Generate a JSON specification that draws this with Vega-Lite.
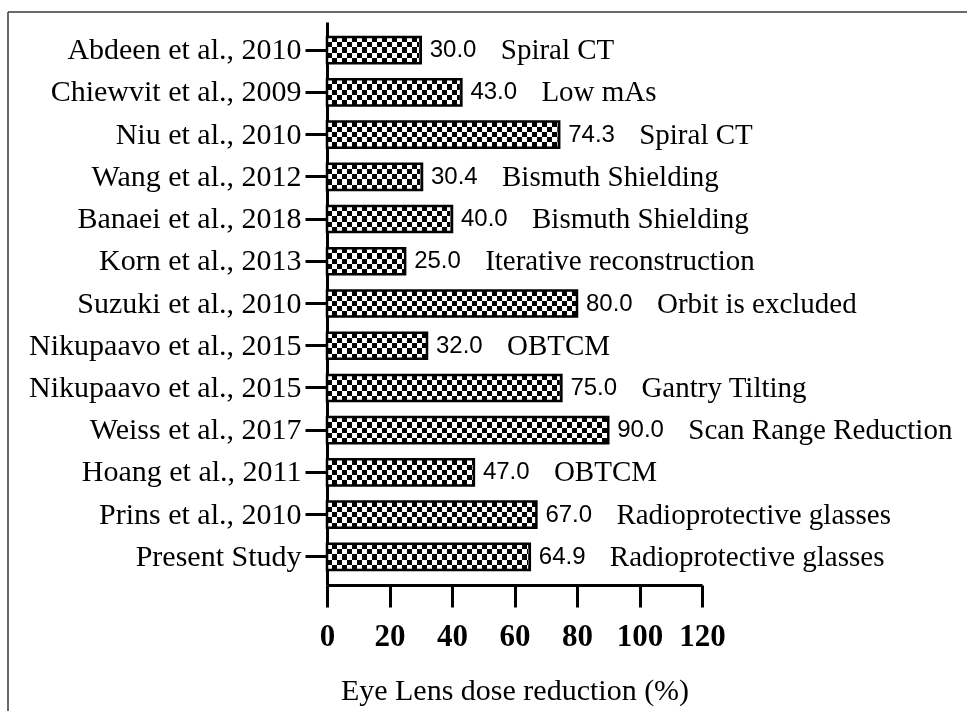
{
  "$schema": "https://vega.github.io/schema/vega-lite/v6.json",
  "width": 959,
  "height": 699,
  "autosize": "none",
  "padding": {"left": 8, "top": 12, "right": 0, "bottom": 0},
  "background": "white",
  "data": {
    "values": [
      {"study": "Abdeen et al., 2010", "value": 30.0, "method": "Spiral CT"},
      {"study": "Chiewvit et al., 2009", "value": 43.0, "method": "Low mAs"},
      {"study": "Niu et al., 2010", "value": 74.3, "method": "Spiral CT"},
      {"study": "Wang et al., 2012", "value": 30.4, "method": "Bismuth Shielding"},
      {"study": "Banaei et al., 2018", "value": 40.0, "method": "Bismuth Shielding"},
      {"study": "Korn et al., 2013", "value": 25.0, "method": "Iterative reconstruction"},
      {"study": "Suzuki et al., 2010", "value": 80.0, "method": "Orbit is excluded"},
      {"study": "Nikupaavo et al., 2015|a", "value": 32.0, "method": "OBTCM"},
      {"study": "Nikupaavo et al., 2015|b", "value": 75.0, "method": "Gantry Tilting"},
      {"study": "Weiss et al., 2017", "value": 90.0, "method": "Scan Range Reduction"},
      {"study": "Hoang et al., 2011", "value": 47.0, "method": "OBTCM"},
      {"study": "Prins et al., 2010", "value": 67.0, "method": "Radioprotective glasses"},
      {"study": "Present Study\u00a0", "value": 64.9, "method": "Radioprotective glasses"}
    ]
  },
  "encoding": {
    "y": {
      "field": "study",
      "type": "nominal",
      "sort": null,
      "scale": {"range": [10, 573], "paddingInner": 0.38, "paddingOuter": 0.355},
      "axis": {"title": null, "labelExpr": "split(datum.label, '|')[0]", "labelLimit": 0}
    },
    "x": {
      "field": "value",
      "type": "quantitative",
      "scale": {"domain": [0, 120], "range": [319, 694], "nice": false, "zero": true},
      "title": "Eye Lens dose reduction (%)"
    }
  },
  "layer": [
    {
      "mark": {
        "type": "bar",
        "fill": {
          "gradient": "linear", "x1": 0, "y1": 0, "x2": 1, "y2": 0,
          "stops": [
            {"offset": 0, "color": "black"}, {"offset": 0.0167, "color": "black"},
            {"offset": 0.0167, "color": "white"}, {"offset": 0.0333, "color": "white"},
            {"offset": 0.0333, "color": "black"}, {"offset": 0.05, "color": "black"},
            {"offset": 0.05, "color": "white"}, {"offset": 0.0667, "color": "white"},
            {"offset": 0.0667, "color": "black"}, {"offset": 0.0833, "color": "black"},
            {"offset": 0.0833, "color": "white"}, {"offset": 0.1, "color": "white"},
            {"offset": 0.1, "color": "black"}, {"offset": 0.1167, "color": "black"},
            {"offset": 0.1167, "color": "white"}, {"offset": 0.1333, "color": "white"},
            {"offset": 0.1333, "color": "black"}, {"offset": 0.15, "color": "black"},
            {"offset": 0.15, "color": "white"}, {"offset": 0.1667, "color": "white"},
            {"offset": 0.1667, "color": "black"}, {"offset": 0.1833, "color": "black"},
            {"offset": 0.1833, "color": "white"}, {"offset": 0.2, "color": "white"},
            {"offset": 0.2, "color": "black"}, {"offset": 0.2167, "color": "black"},
            {"offset": 0.2167, "color": "white"}, {"offset": 0.2333, "color": "white"},
            {"offset": 0.2333, "color": "black"}, {"offset": 0.25, "color": "black"},
            {"offset": 0.25, "color": "white"}, {"offset": 0.2667, "color": "white"},
            {"offset": 0.2667, "color": "black"}, {"offset": 0.2833, "color": "black"},
            {"offset": 0.2833, "color": "white"}, {"offset": 0.3, "color": "white"},
            {"offset": 0.3, "color": "black"}, {"offset": 0.3167, "color": "black"},
            {"offset": 0.3167, "color": "white"}, {"offset": 0.3333, "color": "white"},
            {"offset": 0.3333, "color": "black"}, {"offset": 0.35, "color": "black"},
            {"offset": 0.35, "color": "white"}, {"offset": 0.3667, "color": "white"},
            {"offset": 0.3667, "color": "black"}, {"offset": 0.3833, "color": "black"},
            {"offset": 0.3833, "color": "white"}, {"offset": 0.4, "color": "white"},
            {"offset": 0.4, "color": "black"}, {"offset": 0.4167, "color": "black"},
            {"offset": 0.4167, "color": "white"}, {"offset": 0.4333, "color": "white"},
            {"offset": 0.4333, "color": "black"}, {"offset": 0.45, "color": "black"},
            {"offset": 0.45, "color": "white"}, {"offset": 0.4667, "color": "white"},
            {"offset": 0.4667, "color": "black"}, {"offset": 0.4833, "color": "black"},
            {"offset": 0.4833, "color": "white"}, {"offset": 0.5, "color": "white"},
            {"offset": 0.5, "color": "black"}, {"offset": 0.5167, "color": "black"},
            {"offset": 0.5167, "color": "white"}, {"offset": 0.5333, "color": "white"},
            {"offset": 0.5333, "color": "black"}, {"offset": 0.55, "color": "black"},
            {"offset": 0.55, "color": "white"}, {"offset": 0.5667, "color": "white"},
            {"offset": 0.5667, "color": "black"}, {"offset": 0.5833, "color": "black"},
            {"offset": 0.5833, "color": "white"}, {"offset": 0.6, "color": "white"},
            {"offset": 0.6, "color": "black"}, {"offset": 0.6167, "color": "black"},
            {"offset": 0.6167, "color": "white"}, {"offset": 0.6333, "color": "white"},
            {"offset": 0.6333, "color": "black"}, {"offset": 0.65, "color": "black"},
            {"offset": 0.65, "color": "white"}, {"offset": 0.6667, "color": "white"},
            {"offset": 0.6667, "color": "black"}, {"offset": 0.6833, "color": "black"},
            {"offset": 0.6833, "color": "white"}, {"offset": 0.7, "color": "white"},
            {"offset": 0.7, "color": "black"}, {"offset": 0.7167, "color": "black"},
            {"offset": 0.7167, "color": "white"}, {"offset": 0.7333, "color": "white"},
            {"offset": 0.7333, "color": "black"}, {"offset": 0.75, "color": "black"},
            {"offset": 0.75, "color": "white"}, {"offset": 0.7667, "color": "white"},
            {"offset": 0.7667, "color": "black"}, {"offset": 0.7833, "color": "black"},
            {"offset": 0.7833, "color": "white"}, {"offset": 0.8, "color": "white"},
            {"offset": 0.8, "color": "black"}, {"offset": 0.8167, "color": "black"},
            {"offset": 0.8167, "color": "white"}, {"offset": 0.8333, "color": "white"},
            {"offset": 0.8333, "color": "black"}, {"offset": 0.85, "color": "black"},
            {"offset": 0.85, "color": "white"}, {"offset": 0.8667, "color": "white"},
            {"offset": 0.8667, "color": "black"}, {"offset": 0.8833, "color": "black"},
            {"offset": 0.8833, "color": "white"}, {"offset": 0.9, "color": "white"},
            {"offset": 0.9, "color": "black"}, {"offset": 0.9167, "color": "black"},
            {"offset": 0.9167, "color": "white"}, {"offset": 0.9333, "color": "white"},
            {"offset": 0.9333, "color": "black"}, {"offset": 0.95, "color": "black"},
            {"offset": 0.95, "color": "white"}, {"offset": 0.9667, "color": "white"},
            {"offset": 0.9667, "color": "black"}, {"offset": 0.9833, "color": "black"},
            {"offset": 0.9833, "color": "white"}, {"offset": 1, "color": "white"}
          ]
        }
      },
      "encoding": {
        "x": {"datum": 0, "type": "quantitative", "title": "Eye Lens dose reduction (%)"},
        "x2": {"datum": 96}
      }
    },
    {
      "mark": {"type": "bar", "fill": "white", "stroke": "white", "strokeWidth": 3},
      "encoding": {
        "x2": {"datum": 96}
      }
    },
    {
      "mark": {
        "type": "bar",
        "blend": "difference",
        "fill": {
          "gradient": "linear", "x1": 0, "y1": 0, "x2": 0, "y2": 1,
          "stops": [
            {"offset": 0, "color": "white"}, {"offset": 0.2, "color": "white"},
            {"offset": 0.2, "color": "black"}, {"offset": 0.4, "color": "black"},
            {"offset": 0.4, "color": "white"}, {"offset": 0.6, "color": "white"},
            {"offset": 0.6, "color": "black"}, {"offset": 0.8, "color": "black"},
            {"offset": 0.8, "color": "white"}, {"offset": 1, "color": "white"}
          ]
        }
      },
      "encoding": {}
    },
    {
      "mark": {"type": "bar", "fill": "transparent", "stroke": "black", "strokeWidth": 2.5},
      "encoding": {}
    },
    {
      "mark": {"type": "text", "align": "left", "baseline": "middle", "dx": 9, "font": "Liberation Sans", "fontSize": 24, "fill": "black"},
      "encoding": {
        "text": {"field": "value", "type": "quantitative", "format": ".1f"}
      }
    },
    {
      "mark": {"type": "text", "align": "left", "baseline": "middle", "dx": 80, "font": "Liberation Serif", "fontSize": 29, "fill": "black"},
      "encoding": {
        "text": {"field": "method", "type": "nominal"}
      }
    }
  ],
  "config": {
    "view": {"stroke": "#3a3a3a", "strokeWidth": 1.5, "strokeDash": [959, 1658, 699, 0]},
    "axis": {
      "grid": false,
      "domainColor": "black",
      "domainWidth": 3,
      "tickColor": "black",
      "tickWidth": 3,
      "tickSize": 22,
      "labelColor": "black",
      "titleColor": "black"
    },
    "axisX": {
      "offset": -126,
      "tickCount": 6,
      "labelFont": "Liberation Serif",
      "labelFontSize": 31,
      "labelFontWeight": "bold",
      "labelPadding": 14,
      "labelFlush": false,
      "titleFont": "Liberation Serif",
      "titleFontSize": 30,
      "titleFontWeight": "normal",
      "titlePadding": 24
    },
    "axisY": {
      "offset": -319,
      "labelFont": "Liberation Serif",
      "labelFontSize": 30,
      "labelPadding": 4,
      "labelLimit": 0
    }
  }
}
